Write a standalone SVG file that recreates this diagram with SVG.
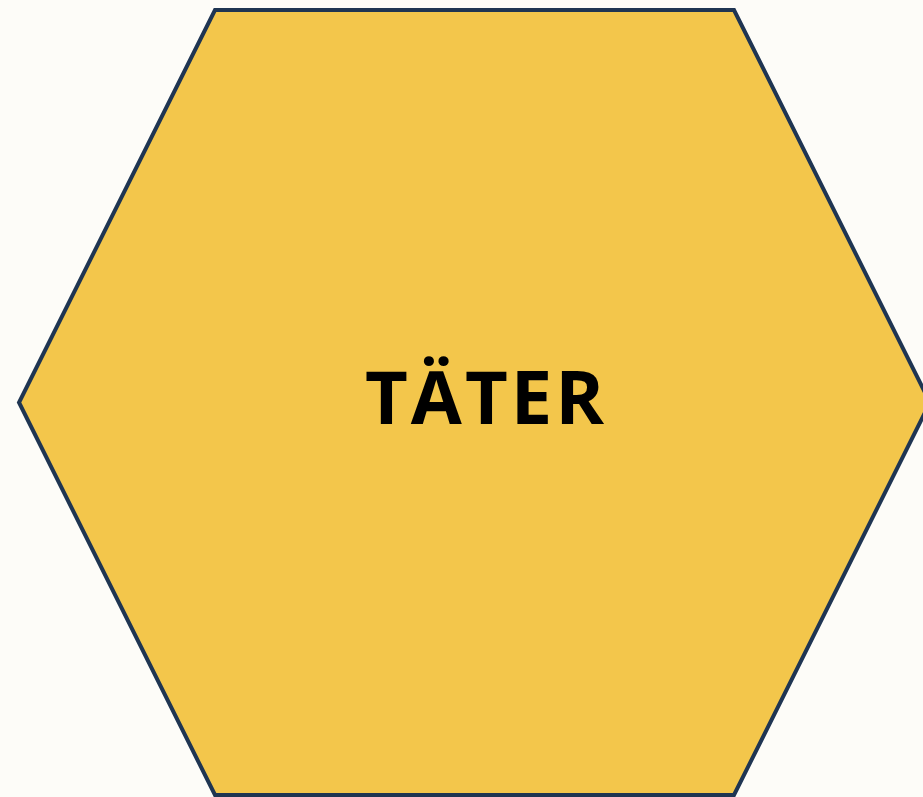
<svg xmlns="http://www.w3.org/2000/svg" width="923" height="797" viewBox="0 0 923 797">
<style>
.hex{fill:#F3C64B;stroke:#1F3552;stroke-width:4;stroke-linejoin:miter}
.lbl{font-family:"Open Sans","Liberation Sans",sans-serif;font-weight:bold;font-size:74px;fill:#000;letter-spacing:3px}
</style>
<rect width="923" height="797" fill="#FDFCF8"/>
<g id="taeter">
<polygon class="hex" points="215,10 734,10 930,402.5 734,795 215,795 19,402.5"/>
<text class="lbl" x="365" y="424">TÄTER</text>
</g>
<g id="connectors"/>
</svg>
